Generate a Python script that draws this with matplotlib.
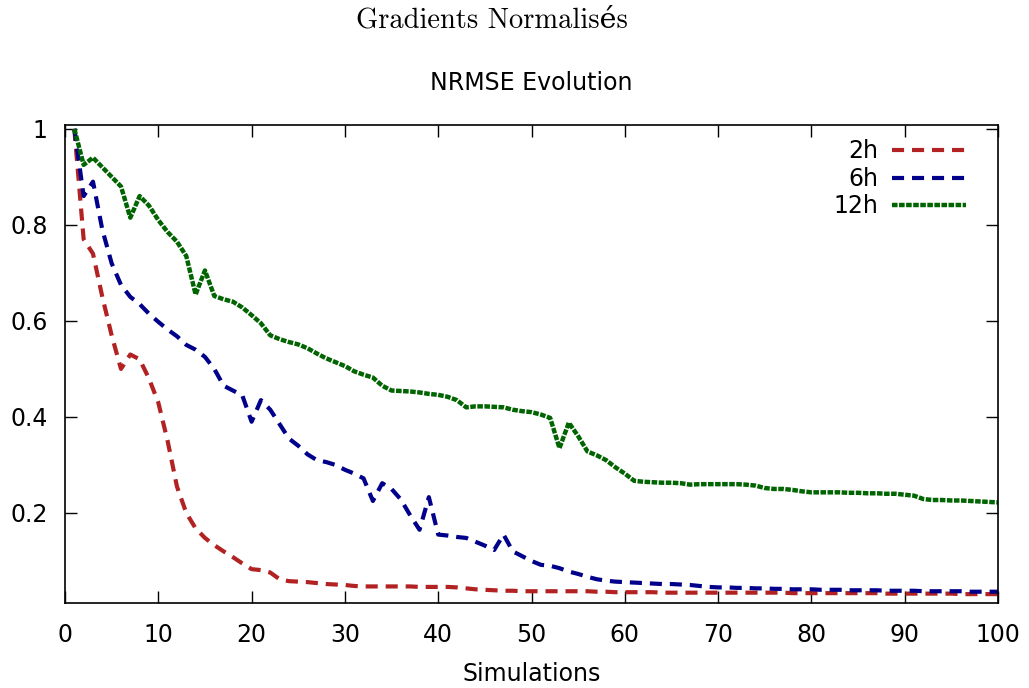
import numpy as np
import matplotlib
matplotlib.use("Agg")
import matplotlib.pyplot as plt

simulations = list(range(1, 101))

nrmse_2h = [
    1.00, 0.77, 0.74, 0.65, 0.57, 0.50, 0.53, 0.52, 0.48, 0.43,
    0.35, 0.255, 0.20, 0.168, 0.148, 0.133, 0.12, 0.108, 0.095, 0.083,
    0.081, 0.076, 0.062, 0.058, 0.057, 0.056, 0.054, 0.052, 0.051, 0.050,
    0.048, 0.047, 0.047, 0.047, 0.047, 0.047, 0.047, 0.046, 0.046, 0.046,
    0.046, 0.045, 0.043, 0.041, 0.040, 0.039, 0.038, 0.038, 0.037, 0.037,
    0.037, 0.037, 0.037, 0.037, 0.037, 0.037, 0.036, 0.036, 0.035, 0.035,
    0.035, 0.035, 0.035, 0.034, 0.034, 0.034, 0.034, 0.034, 0.034, 0.034,
    0.034, 0.034, 0.034, 0.034, 0.034, 0.034, 0.034, 0.033, 0.033, 0.033,
    0.033, 0.033, 0.033, 0.033, 0.033, 0.033, 0.033, 0.032, 0.032, 0.032,
    0.032, 0.032, 0.032, 0.032, 0.032, 0.031, 0.031, 0.031, 0.031, 0.031,
]

nrmse_6h = [
    1.00, 0.86, 0.89, 0.79, 0.72, 0.675, 0.65, 0.635, 0.615, 0.598,
    0.582, 0.568, 0.55, 0.54, 0.525, 0.50, 0.465, 0.455, 0.445, 0.39,
    0.435, 0.415, 0.385, 0.355, 0.34, 0.322, 0.31, 0.306, 0.30, 0.29,
    0.282, 0.272, 0.225, 0.262, 0.25, 0.228, 0.195, 0.165, 0.233, 0.155,
    0.153, 0.150, 0.148, 0.14, 0.132, 0.123, 0.155, 0.12, 0.11, 0.10,
    0.092, 0.09, 0.085, 0.078, 0.073, 0.067, 0.062, 0.059, 0.057, 0.056,
    0.055, 0.054, 0.053, 0.052, 0.052, 0.051, 0.05, 0.048, 0.046, 0.045,
    0.045, 0.044, 0.044, 0.043, 0.043, 0.042, 0.042, 0.041, 0.041, 0.041,
    0.040, 0.040, 0.040, 0.039, 0.039, 0.039, 0.039, 0.038, 0.038, 0.038,
    0.038, 0.037, 0.037, 0.037, 0.037, 0.037, 0.036, 0.036, 0.036, 0.036,
]

nrmse_12h = [
    1.00, 0.925, 0.94, 0.92, 0.90, 0.88, 0.815, 0.86, 0.84, 0.81,
    0.785, 0.765, 0.735, 0.655, 0.705, 0.652, 0.645, 0.64, 0.628, 0.612,
    0.595, 0.57, 0.562, 0.556, 0.551, 0.543, 0.532, 0.522, 0.514, 0.506,
    0.495, 0.488, 0.482, 0.465, 0.455, 0.454, 0.453, 0.451, 0.448, 0.446,
    0.442, 0.435, 0.42, 0.422, 0.422, 0.421, 0.42, 0.415, 0.412, 0.41,
    0.405, 0.398, 0.335, 0.388, 0.36, 0.328, 0.32, 0.31, 0.295, 0.282,
    0.267, 0.265, 0.264, 0.263, 0.263, 0.262, 0.259, 0.26, 0.26, 0.26,
    0.26, 0.26, 0.259, 0.257, 0.252, 0.25, 0.25, 0.248, 0.245, 0.243,
    0.243, 0.243, 0.243, 0.242, 0.242, 0.241, 0.241, 0.24, 0.24, 0.238,
    0.236, 0.229, 0.227, 0.227, 0.226, 0.226, 0.225, 0.224, 0.223, 0.222,
]

series_labels = ["2h", "6h", "12h"]
x_ticks = [0, 10, 20, 30, 40, 50, 60, 70, 80, 90, 100]
y_ticks = [0.2, 0.4, 0.6, 0.8, 1.0]
y_tick_labels = ["0.2", "0.4", "0.6", "0.8", "1"]

FS = 17
fig = plt.figure(figsize=(10.29, 6.88), dpi=100)
ax = fig.add_axes([65 / 1029, 1 - 603 / 688, (998 - 65) / 1029, (603 - 125) / 688])

ax.plot(simulations, nrmse_2h, color="#b22222", lw=3.0, dashes=(2.9, 1.9), label=series_labels[0])
ax.plot(simulations, nrmse_6h, color="#00008b", lw=3.0, dashes=(2.9, 1.9), label=series_labels[1])
ax.plot(simulations, nrmse_12h, color="#006400", lw=3.2, dashes=(1.25, 0.34), label=series_labels[2])

ax.set_xlim(0, 100)
ax.set_ylim(0.0125, 1.008)
ax.set_xticks(x_ticks)
ax.set_xticklabels([str(t) for t in x_ticks])
ax.set_yticks(y_ticks)
ax.set_yticklabels(y_tick_labels)
ax.tick_params(direction="in", length=8.5, width=1.0, top=True, right=True, labelsize=FS)
ax.tick_params(axis="x", pad=14.5)
ax.tick_params(axis="y", pad=12.5)
for s in ax.spines.values():
    s.set_linewidth(1.2)

ax.set_xlabel("Simulations", fontsize=FS, labelpad=11)
ax.set_title("NRMSE Evolution", fontsize=FS, pad=25)

fig.text(492 / 1029, 1 - 20 / 688, "Gradients Normalisés", ha="center", va="center",
         fontsize=20.5, family=["cmr10", "DejaVu Serif"])

leg = ax.legend(loc="upper right", frameon=False, markerfirst=False, fontsize=FS,
                handlelength=3.1, handletextpad=0.6, labelspacing=0.15,
                borderaxespad=0.5, bbox_to_anchor=(0.988, 1.0146))

fig.savefig("out.png", dpi=100)
